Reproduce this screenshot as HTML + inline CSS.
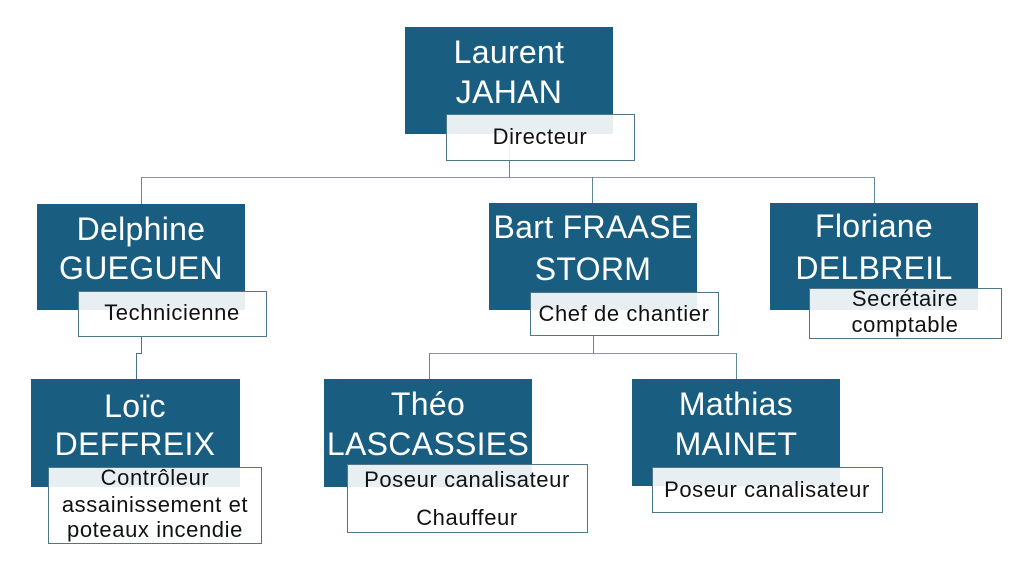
<!DOCTYPE html>
<html>
<head>
<meta charset="utf-8">
<style>
  html,body{margin:0;padding:0;background:#fff;}
  #c{position:relative;width:1024px;height:572px;overflow:hidden;background:#fff;
     font-family:"Liberation Sans",Arial,sans-serif;}
  .ln{position:absolute;background:#5f8799;}
  .bx{position:absolute;background:#195e80;}
  .lb{position:absolute;background:rgba(255,255,255,0.9);border:1px solid #4d7689;box-sizing:border-box;}
  .n{position:absolute;width:300px;text-align:center;color:#fff;font-size:32px;line-height:40px;height:40px;letter-spacing:0.3px;white-space:nowrap;}
  .t{position:absolute;width:300px;text-align:center;color:#111;font-size:22px;line-height:26px;height:26px;letter-spacing:0.6px;white-space:nowrap;}
</style>
</head>
<body>
<div id="c">
  <!-- connectors -->
  <div class="ln" style="left:509px;top:134px;width:1px;height:44px;"></div>
  <div class="ln" style="left:141px;top:177px;width:734px;height:1px;background:#7f9dab;"></div>
  <div class="ln" style="left:141px;top:177px;width:1px;height:27px;"></div>
  <div class="ln" style="left:592px;top:177px;width:1px;height:26px;"></div>
  <div class="ln" style="left:874px;top:177px;width:1px;height:26px;"></div>

  <div class="ln" style="left:141px;top:337px;width:1px;height:17px;background:#4b7185;"></div>
  <div class="ln" style="left:136px;top:353px;width:6px;height:1px;background:#4b7185;"></div>
  <div class="ln" style="left:136px;top:353px;width:1px;height:26px;background:#4b7185;"></div>

  <div class="ln" style="left:593px;top:336px;width:1px;height:18px;"></div>
  <div class="ln" style="left:429px;top:353px;width:308px;height:1px;background:#7f9dab;"></div>
  <div class="ln" style="left:429px;top:353px;width:1px;height:26px;"></div>
  <div class="ln" style="left:736px;top:353px;width:1px;height:26px;"></div>

  <!-- Laurent -->
  <div class="bx" style="left:405px;top:27px;width:208px;height:107px;"></div>
  <div class="n" style="left:359px;top:32px;">Laurent</div>
  <div class="n" style="left:359px;top:72px;">JAHAN</div>
  <div class="lb" style="left:446px;top:114px;width:189px;height:47px;"></div>
  <div class="t" style="left:390px;top:124px;">Directeur</div>

  <!-- Delphine -->
  <div class="bx" style="left:37px;top:204px;width:208px;height:106px;"></div>
  <div class="n" style="left:-9px;top:209px;">Delphine</div>
  <div class="n" style="left:-9px;top:248px;">GUEGUEN</div>
  <div class="lb" style="left:78px;top:291px;width:189px;height:46px;"></div>
  <div class="t" style="left:22px;top:300px;">Technicienne</div>

  <!-- Bart -->
  <div class="bx" style="left:489px;top:203px;width:208px;height:107px;"></div>
  <div class="n" style="left:443px;top:207px;">Bart FRAASE</div>
  <div class="n" style="left:443px;top:249px;">STORM</div>
  <div class="lb" style="left:530px;top:292px;width:189px;height:44px;"></div>
  <div class="t" style="left:474px;top:301px;">Chef de chantier</div>

  <!-- Floriane -->
  <div class="bx" style="left:770px;top:203px;width:208px;height:107px;"></div>
  <div class="n" style="left:724px;top:206px;">Floriane</div>
  <div class="n" style="left:724px;top:248px;">DELBREIL</div>
  <div class="lb" style="left:809px;top:288px;width:193px;height:51px;"></div>
  <div class="t" style="left:755px;top:286px;">Secrétaire</div>
  <div class="t" style="left:755px;top:312px;">comptable</div>

  <!-- Loïc -->
  <div class="bx" style="left:31px;top:379px;width:209px;height:108px;"></div>
  <div class="n" style="left:-15px;top:386px;">Loïc</div>
  <div class="n" style="left:-15px;top:424px;">DEFFREIX</div>
  <div class="lb" style="left:48px;top:467px;width:214px;height:77px;"></div>
  <div class="t" style="left:5px;top:465px;">Contrôleur</div>
  <div class="t" style="left:5px;top:492px;">assainissement et</div>
  <div class="t" style="left:5px;top:517px;">poteaux incendie</div>

  <!-- Théo -->
  <div class="bx" style="left:324px;top:379px;width:208px;height:108px;"></div>
  <div class="n" style="left:278px;top:384px;">Théo</div>
  <div class="n" style="left:278px;top:424px;">LASCASSIES</div>
  <div class="lb" style="left:347px;top:464px;width:241px;height:69px;"></div>
  <div class="t" style="left:317px;top:467px;">Poseur canalisateur</div>
  <div class="t" style="left:317px;top:505px;">Chauffeur</div>

  <!-- Mathias -->
  <div class="bx" style="left:632px;top:379px;width:208px;height:107px;"></div>
  <div class="n" style="left:586px;top:384px;">Mathias</div>
  <div class="n" style="left:586px;top:424px;">MAINET</div>
  <div class="lb" style="left:652px;top:467px;width:231px;height:46px;"></div>
  <div class="t" style="left:617px;top:477px;">Poseur canalisateur</div>
</div>
</body>
</html>
